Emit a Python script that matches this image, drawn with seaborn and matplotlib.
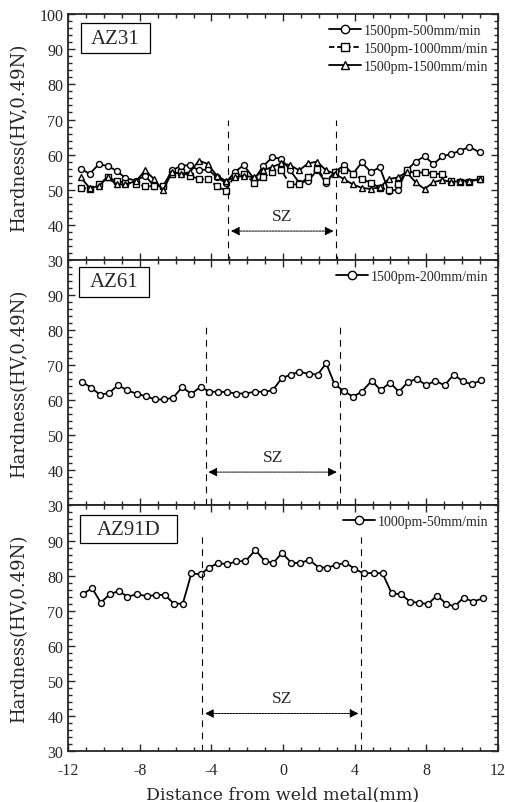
import numpy as np
import pandas as pd
import seaborn as sns
import matplotlib
matplotlib.use('Agg')
import matplotlib.pyplot as plt
from matplotlib.patches import Rectangle
from matplotlib.ticker import MultipleLocator

# --- data ---
x_az31 = [-11.3, -10.8, -10.3, -9.8, -9.3, -8.8, -8.2, -7.7, -7.2, -6.7, -6.2, -5.7,
          -5.2, -4.7, -4.2, -3.7, -3.2, -2.7, -2.2, -1.6, -1.1, -0.6, -0.1, 0.4, 0.9,
          1.4, 1.9, 2.4, 2.9, 3.4, 3.9, 4.4, 4.9, 5.4, 5.9, 6.4, 6.9, 7.4, 7.9, 8.4,
          8.9, 9.4, 9.9, 10.4, 11.0]
az31_500 = [56.0, 54.5, 57.2, 56.8, 55.4, 53.3, 52.6, 54.0, 51.0, 51.0, 55.5, 56.8,
            57.0, 55.5, 55.8, 53.5, 52.0, 55.0, 57.0, 53.0, 56.8, 59.2, 58.8, 55.5, 52.0,
            52.5, 55.5, 52.0, 55.0, 57.0, 54.5, 57.8, 55.0, 56.4, 49.6, 50.0, 55.5, 58.0,
            59.5, 57.3, 59.5, 60.2, 61.1, 62.2, 60.6]
az31_1000 = [50.5, 50.3, 51.5, 53.5, 52.5, 52.0, 51.5, 51.0, 51.0, 51.0, 54.5, 55.0,
             54.0, 53.0, 53.0, 51.0, 49.7, 54.0, 54.5, 52.0, 53.5, 55.0, 55.5, 51.5, 51.5,
             53.5, 56.0, 52.5, 55.0, 55.5, 54.5, 53.0, 52.0, 50.5, 50.0, 51.5, 55.5, 54.7,
             55.0, 54.5, 54.5, 52.6, 52.3, 52.3, 53.0]
az31_1500 = [53.5, 50.5, 51.0, 53.5, 51.5, 51.5, 52.5, 55.5, 53.0, 49.8, 55.0, 54.5,
             55.0, 58.3, 57.3, 54.0, 52.5, 53.5, 54.0, 53.5, 55.5, 56.5, 57.5, 57.0, 55.5,
             57.5, 58.0, 55.5, 54.5, 53.0, 51.5, 50.5, 50.2, 50.7, 53.0, 53.5, 55.0, 52.1,
             50.2, 52.1, 52.8, 52.1, 52.6, 52.6, 53.0]

x_az61 = [-11.25, -10.73, -10.23, -9.73, -9.21, -8.7, -8.15, -7.64, -7.14, -6.64, -6.14,
          -5.64, -5.12, -4.61, -4.11, -3.61, -3.11, -2.6, -2.1, -1.58, -1.08, -0.58, -0.08,
          0.42, 0.91, 1.43, 1.93, 2.41, 2.88, 3.4, 3.9, 4.4, 4.96, 5.45, 5.97, 6.47, 6.98,
          7.48, 8.0, 8.5, 9.02, 9.53, 10.03, 10.53, 11.07]
az61_200 = [65.3, 63.6, 61.6, 62.0, 64.3, 62.8, 61.8, 61.1, 60.2, 60.2, 60.7, 63.7,
            61.8, 63.8, 62.4, 62.4, 62.3, 61.9, 61.9, 62.4, 62.4, 62.8, 66.2, 67.3, 68.1,
            67.5, 67.3, 70.5, 64.5, 62.6, 61.0, 62.4, 65.6, 62.8, 65.0, 62.4, 65.2, 66.1,
            64.2, 65.6, 64.2, 67.3, 65.4, 64.5, 65.7]

x_az91 = [-11.2, -10.66, -10.18, -9.67, -9.17, -8.69, -8.13, -7.59, -7.09, -6.6, -6.1,
          -5.6, -5.12, -4.61, -4.11, -3.63, -3.11, -2.6, -2.1, -1.54, -1.02, -0.54, -0.06,
          0.47, 0.97, 1.47, 1.99, 2.47, 2.98, 3.48, 3.98, 4.5, 5.06, 5.56, 6.07, 6.57,
          7.09, 7.59, 8.09, 8.6, 9.1, 9.58, 10.08, 10.59, 11.18]
az91_50 = [74.7, 76.4, 72.3, 74.7, 75.6, 74.0, 74.7, 74.1, 74.5, 74.5, 72.0, 72.0,
           80.6, 80.4, 82.3, 83.6, 83.2, 84.1, 84.1, 87.3, 84.1, 83.6, 86.5, 83.6, 83.6,
           84.5, 82.3, 82.3, 83.0, 83.7, 82.0, 80.6, 80.8, 80.6, 74.9, 74.7, 72.6, 72.2,
           71.9, 74.3, 72.0, 71.2, 73.7, 72.6, 73.5]

panel_names = ['AZ31', 'AZ61', 'AZ91D']
sz_bounds = [(-3.07, 2.98), (-4.33, 3.16), (-4.52, 4.37)]
sz_top = [70, 81, 91]
sz_arrow_y = [38.2, 39.5, 40.7]

sns.set_style('ticks')
plt.rcParams['font.family'] = ['Liberation Serif', 'DejaVu Serif']
plt.rcParams['xtick.direction'] = 'in'
plt.rcParams['ytick.direction'] = 'in'
plt.rcParams['axes.linewidth'] = 1.3
plt.rcParams['axes.unicode_minus'] = False

fig = plt.figure(figsize=(5.05, 8.03), dpi=100)
axes = fig.subplots(3, 1, sharex=True)
fig.subplots_adjust(left=0.135, right=0.986, top=0.981, bottom=0.0635, hspace=0)

mk = dict(markerfacecolor='white', markeredgecolor='black', markeredgewidth=1.0,
          markersize=4.3, linewidth=1.3, color='black')

# AZ31
ax = axes[0]
sns.lineplot(x=x_az31, y=az31_500, ax=ax, marker='o', label='1500pm-500mm/min',
             estimator=None, sort=False, **mk)
sns.lineplot(x=x_az31, y=az31_1000, ax=ax, marker='s', label='1500pm-1000mm/min',
             estimator=None, sort=False, linestyle=(0, (3, 1.5)), **mk)
sns.lineplot(x=x_az31, y=az31_1500, ax=ax, marker='^', label='1500pm-1500mm/min',
             estimator=None, sort=False, **mk)

# AZ61
sns.lineplot(x=x_az61, y=az61_200, ax=axes[1], marker='o', label='1500pm-200mm/min',
             estimator=None, sort=False, **mk)

# AZ91D
sns.lineplot(x=x_az91, y=az91_50, ax=axes[2], marker='o', label='1000pm-50mm/min',
             estimator=None, sort=False, **mk)

for i, ax in enumerate(axes):
    ax.set_xlim(-12, 12)
    ax.set_ylim(30, 100)
    ax.xaxis.set_major_locator(MultipleLocator(4))
    ax.xaxis.set_minor_locator(MultipleLocator(1))
    ax.set_yticks(range(30, 101 if i == 0 else 91, 10))
    ax.yaxis.set_minor_locator(MultipleLocator(2))
    ax.tick_params(which='both', top=True, right=True, labelsize=11.5, width=1.0)
    ax.tick_params(which='major', length=5)
    ax.tick_params(which='minor', length=3)
    ax.tick_params(axis='x', pad=8)
    ax.set_ylabel('Hardness(HV,0.49N)', fontsize=13, family='DejaVu Serif')
    ax.yaxis.set_label_coords(-0.093, 0.5)

    lo, hi = sz_bounds[i]
    for xv in (lo, hi):
        ax.plot([xv, xv], [30, sz_top[i]], color='black', lw=0.8,
                linestyle=(0, (6, 5)))
    ax.annotate('', xy=(lo, sz_arrow_y[i]), xytext=(hi, sz_arrow_y[i]),
                arrowprops=dict(arrowstyle='<|-|>', color='black', lw=0.7,
                                linestyle=(0, (2, 1)), mutation_scale=13))
    ax.text((lo + hi) / 2, sz_arrow_y[i] + 2.0, 'SZ', ha='center', va='bottom',
            fontsize=12.5)

    leg = ax.legend(loc='upper right', frameon=False, fontsize=10, handlelength=2.3,
                    handletextpad=0.2, labelspacing=0.35, borderaxespad=0.3)
    for h in leg.get_lines():
        h.set_markersize(6)

boxes = [(0.0295, 0.841, 0.161, 0.122), (0.0256, 0.849, 0.163, 0.122),
         (0.028, 0.846, 0.226, 0.113)]
for ax, name, (x0, y0, w, h) in zip(axes, panel_names, boxes):
    ax.add_patch(Rectangle((x0, y0), w, h, transform=ax.transAxes, fill=True,
                           facecolor='white', edgecolor='black', lw=0.9, zorder=5))
    ax.text(x0 + w / 2, y0 + h / 2, name, transform=ax.transAxes, ha='center',
            va='center', fontsize=15, zorder=6)

axes[2].set_xlabel('Distance from weld metal(mm)', fontsize=12.5,
                   family='DejaVu Serif', labelpad=5)

fig.savefig('out.png', dpi=100)
